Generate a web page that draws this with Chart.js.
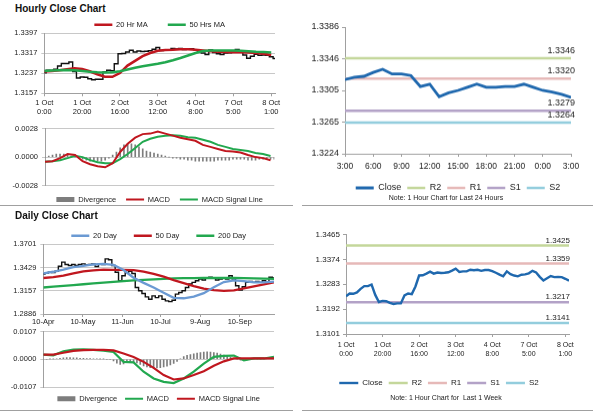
<!DOCTYPE html>
<html lang="en">
<head>
<meta charset="UTF-8">
<meta name="viewport" content="width=device-width, initial-scale=1.0">
<title>Hourly and Daily Close Charts</title>
<script src="https://cdn.jsdelivr.net/npm/chart.js"></script>
<style>
    body { margin: 0; background: #fff; font-family: "Liberation Sans", Arial, sans-serif; color: #111; }
    .page { position: relative; width: 600px; height: 413px; overflow: hidden; }
    .box { position: absolute; }
    .heading { position: absolute; left: 15px; font-size: 10px; font-weight: bold; line-height: 12px; }
    .note { position: absolute; left: 300px; width: 292px; text-align: center; font-size: 7px; line-height: 8px; color: #222; }
    .rule { position: absolute; height: 1px; background: #a0a0a0; }
</style>
</head>
<body>
<div class="page">
    <div class="heading" style="top:3px">Hourly Close Chart</div>
    <div class="box" style="left:0;top:1px;width:290px;height:116px"><canvas id="hourPrice"></canvas></div>
    <div class="box" style="left:0;top:120px;width:290px;height:84px"><canvas id="hourMacdChart"></canvas></div>

    <div class="box" style="left:300px;top:18px;width:290px;height:183.5px"><canvas id="last24Chart"></canvas></div>
    <div class="note" style="top:194px">Note: 1 Hour Chart for Last 24 Hours</div>

    <div class="rule" style="left:0;top:205px;width:293px"></div>
    <div class="rule" style="left:302px;top:205px;width:291px"></div>

    <div class="heading" style="top:210px">Daily Close Chart</div>
    <div class="box" style="left:0;top:215px;width:290px;height:111px"><canvas id="dayPrice"></canvas></div>
    <div class="box" style="left:0;top:323px;width:290px;height:80px"><canvas id="dayMacdChart"></canvas></div>

    <div class="box" style="left:300px;top:226px;width:290px;height:171px"><canvas id="weekChart"></canvas></div>
    <div class="note" style="top:394px">Note: 1 Hour Chart for&nbsp; Last 1 Week</div>

    <div class="rule" style="left:0;top:410px;width:293px"></div>
    <div class="rule" style="left:302px;top:410px;width:291px"></div>
</div>

<script>
    // ---- hourly data, 1 Oct 0:00 to 8 Oct ----
    const hourTickPos = [0, 20, 40, 60, 80, 100, 120];
    const hourTickLabels = [['1 Oct', '0:00'], ['1 Oct', '20:00'], ['2 Oct', '16:00'], ['3 Oct', '12:00'],
                            ['4 Oct', '8:00'], ['7 Oct', '5:00'], ['8 Oct', '1:00']];
    const hourSpan = 122;

    // close every 2 hours
    const weekClose = [
        1.3239, 1.3249, 1.3248, 1.3253, 1.3266, 1.3276, 1.3276, 1.3282, 1.3244, 1.3218,
        1.3222, 1.3221, 1.3215, 1.3211, 1.3213, 1.3213, 1.3242, 1.3249, 1.3247, 1.3275,
        1.3315, 1.3316, 1.3322, 1.3329, 1.3322, 1.3326, 1.3324, 1.3325, 1.3327, 1.3333,
        1.3340, 1.3328, 1.3330, 1.3330, 1.3336, 1.3334, 1.3336, 1.3332, 1.3335, 1.3335,
        1.3331, 1.3325, 1.3318, 1.3312, 1.3330, 1.3320, 1.3315, 1.3312, 1.3318, 1.3319,
        1.3323, 1.3332, 1.3326, 1.3310, 1.3297, 1.3305, 1.3313, 1.3309, 1.3310, 1.3309,
        1.3303, 1.3296
    ];
    // moving averages and MACD every 4 hours (0..120)
    const hourMa20 = [
        1.3244, 1.3246, 1.3249, 1.3253, 1.3257, 1.3254, 1.3245, 1.3233, 1.3223, 1.3223,
        1.3238, 1.3268, 1.3287, 1.3306, 1.3318, 1.3327, 1.3330, 1.3331, 1.3333, 1.3333,
        1.3331, 1.3328, 1.3325, 1.3323, 1.3322, 1.3321, 1.3321, 1.3320, 1.3318, 1.3315, 1.3310
    ];
    const hourMa50 = [
        1.3246, 1.3248, 1.3249, 1.3250, 1.3249, 1.3246, 1.3243, 1.3241, 1.3240, 1.3241,
        1.3245, 1.3252, 1.3259, 1.3265, 1.3270, 1.3275, 1.3281, 1.3289, 1.3298, 1.3308,
        1.3318, 1.3326, 1.3328, 1.3328, 1.3328, 1.3328, 1.3327, 1.3325, 1.3323, 1.3322, 1.3320
    ];
    const hourMacd = [
        -0.00046, -0.0004, -0.0001, 0.0003, 0.0002, -0.0004, -0.0007, -0.0009, -0.0010, -0.0006,
        0.0005, 0.0013, 0.0019, 0.00225, 0.0023, 0.0025, 0.0023, 0.0021, 0.0019, 0.00175,
        0.0016, 0.0012, 0.0010, 0.0008, 0.0006, 0.00055, 0.00045, 0.0002, 0.0000, -0.0001, -0.0003
    ];
    const hourSignal = [
        -0.00046, -0.0004, -0.0003, -0.0001, 0.00012, 0.0000, -0.0003, -0.0005, -0.0006, -0.0006,
        -0.0002, 0.0003, 0.0009, 0.0015, 0.0018, 0.0020, 0.0021, 0.00215, 0.0021, 0.00195,
        0.0019, 0.0017, 0.0015, 0.0012, 0.0010, 0.0008, 0.0007, 0.0006, 0.0004, 0.0003, 0.0001
    ];
    // divergence every 2 hours
    const hourDivergence = [
        0.0000, 0.0001, 0.0002, 0.0003, 0.0003, 0.0003, 0.0002, 0.0001, 0.0000, -0.0001,
        -0.0002, -0.0003, -0.0004, -0.0004, -0.0004, -0.0004, -0.0003, -0.0001, 0.0002, 0.0005,
        0.0009, 0.0012, 0.0013, 0.0013, 0.0012, 0.0010, 0.0008, 0.0006, 0.0005, 0.0004,
        0.0003, 0.0002, 0.0001, 0.0000, -0.0001, -0.0001, -0.0002, -0.0002, -0.0003, -0.0003,
        -0.0004, -0.0004, -0.0004, -0.0004, -0.0004, -0.0004, -0.0003, -0.0003, -0.0003, -0.0003,
        -0.0002, -0.0002, -0.0002, -0.0002, -0.0003, -0.0003, -0.0003, -0.0002, -0.0002, -0.0002,
        -0.0002, -0.0002
    ];
    const hourPriceTicks = [1.3157, 1.3237, 1.3317, 1.3397];
    const hourMacdTicks = [-0.0028, 0, 0.0028];

    // ---- last 24 hours ----
    const last24TickPos = [0, 3, 6, 9, 12, 15, 18, 21, 24];
    const last24Labels = ['3:00', '6:00', '9:00', '12:00', '15:00', '18:00', '21:00', '0:00', '3:00'];
    const last24Close = [
        1.3319, 1.3322, 1.3323, 1.3328, 1.3332, 1.3326, 1.3326, 1.3324, 1.3310, 1.3313,
        1.3297, 1.3302, 1.3305, 1.3309, 1.3313, 1.3309, 1.3309, 1.3310, 1.3310, 1.3313,
        1.3309, 1.3305, 1.3303, 1.3300, 1.3296
    ];
    const last24Ticks = [1.3224, 1.3265, 1.3305, 1.3346, 1.3386];
    const levelNames = ['R2', 'R1', 'S1', 'S2'];
    const last24Levels = [1.3346, 1.3320, 1.3279, 1.3264];

    // ---- last week (uses weekClose) ----
    const weekTicks = [1.3101, 1.3192, 1.3283, 1.3374, 1.3465];
    const weekLevels = [1.3425, 1.3359, 1.3217, 1.3141];

    // ---- daily data, 10 Apr to 8 Oct ----
    const daySpan = 128;
    const dayTickPos = [0, 22, 44, 65, 87, 109];
    const dayTickLabels = ['10-Apr', '10-May', '11-Jun', '10-Jul', '9-Aug', '10-Sep'];
    const dailyClose = [
        1.3354, 1.3366, 1.3374, 1.3370, 1.3386, 1.3445, 1.3492, 1.3465, 1.3453, 1.3465,
        1.3453, 1.3465, 1.3472, 1.3461, 1.3465, 1.3472, 1.3441, 1.3472, 1.3465, 1.3531,
        1.3520, 1.3453, 1.3374, 1.3275, 1.3334, 1.3370, 1.3386, 1.3360, 1.3196, 1.3157,
        1.3125, 1.3086, 1.3058, 1.3098, 1.3078, 1.3098, 1.3058, 1.3039, 1.3031, 1.3047,
        1.3118, 1.3137, 1.3157, 1.3196, 1.3236, 1.3256, 1.3275, 1.3295, 1.3283, 1.3303,
        1.3315, 1.3307, 1.3283, 1.3295, 1.3307, 1.3295, 1.3334, 1.3295, 1.3216, 1.3165,
        1.3204, 1.3256, 1.3267, 1.3256, 1.3267, 1.3256, 1.3275, 1.3256, 1.3315, 1.3307
    ];
    const dailyMa20 = [
        1.3362, 1.3380, 1.3405, 1.3433, 1.3450, 1.3465, 1.3472, 1.3460, 1.3400, 1.3310,
        1.3250, 1.3195, 1.3135, 1.3075, 1.3070, 1.3090, 1.3130, 1.3200, 1.3260, 1.3280,
        1.3270, 1.3255, 1.3255, 1.3265
    ];
    const dailyMa50 = [
        1.3307, 1.3318, 1.3335, 1.3362, 1.3385, 1.3397, 1.3404, 1.3403, 1.3401, 1.3400,
        1.3382, 1.3355, 1.3322, 1.3283, 1.3248, 1.3212, 1.3183, 1.3165, 1.3157, 1.3162,
        1.3185, 1.3210, 1.3232, 1.3256
    ];
    const dailyMa200 = [
        1.3196, 1.3205, 1.3214, 1.3224, 1.3234, 1.3243, 1.3253, 1.3262, 1.3270, 1.3278,
        1.3285, 1.3291, 1.3297, 1.3302, 1.3305, 1.3306, 1.3307, 1.3307, 1.3307, 1.3307,
        1.3306, 1.3303, 1.3300, 1.3297
    ];
    const dailyMacd = [
        0.0018, 0.0015, 0.0031, 0.0037, 0.0038, 0.0036, 0.0033, 0.0028, -0.0010, -0.0012,
        -0.0048, -0.0074, -0.0087, -0.0092, -0.0074, -0.0048, -0.0017, 0.0009, 0.0013, 0.0014,
        -0.0004, 0.0003, 0.0003, 0.0009
    ];
    const dailySignal = [
        0.0018, 0.0018, 0.0025, 0.0032, 0.0035, 0.0036, 0.0036, 0.0034, 0.0022, 0.0009,
        -0.0010, -0.0033, -0.0061, -0.0078, -0.0074, -0.0061, -0.0046, -0.0025, -0.0008, 0.0003,
        0.0003, 0.0003, 0.0003, 0.0003
    ];
    const dailyDivergence = [
        0.0000, 0.0000, 0.0001, 0.0001, 0.0002, 0.0004, 0.0005, 0.0006, 0.0006, 0.0005,
        0.0005, 0.0004, 0.0004, 0.0003, 0.0003, 0.0002, 0.0002, 0.0001, 0.0001, 0.0000,
        -0.0002, -0.0006, -0.0015, -0.0020, -0.0018, -0.0012, -0.0008, -0.0010, -0.0014, -0.0020,
        -0.0026, -0.0030, -0.0032, -0.0033, -0.0033, -0.0032, -0.0030, -0.0027, -0.0022, -0.0016,
        -0.0008, 0.0002, 0.0010, 0.0015, 0.0018, 0.0021, 0.0024, 0.0026, 0.0028, 0.0029,
        0.0028, 0.0026, 0.0024, 0.0020, 0.0016, 0.0012, 0.0007, 0.0003, 0.0000, -0.0004,
        -0.0005, -0.0003, 0.0000, 0.0001, 0.0001, 0.0000, 0.0001, 0.0003, 0.0007, 0.0005
    ];
    const dailyPriceTicks = [1.2886, 1.3157, 1.3429, 1.3701];
    const dailyMacdTicks = [-0.0107, 0, 0.0107];

    // ---- styles ----
    const RED = '#c0171f';
    const GREEN = '#22a84f';
    const BLUE = '#6b9ad3';
    const CLOSE_BLUE = '#1f68ae';
    const BAR_GREY = '#7d7d7d';
    const levelColors = ['#c4d79b', '#e6b9b8', '#b3a2c7', '#93cddd'];

    Chart.defaults.font.family = '"Liberation Sans", Arial, sans-serif';
    Chart.defaults.color = '#222';
    Chart.defaults.animation = false;
    Chart.defaults.maintainAspectRatio = false;
    Chart.defaults.plugins.tooltip.enabled = false;

    // spread values evenly over 0..span on a linear x axis
    function spread(values, span) {
        return values.map((v, i) => ({ x: i * span / (values.length - 1), y: v }));
    }

    function line(label, values, span, color, width, extra) {
        return Object.assign({
            type: 'line', label, data: spread(values, span),
            borderColor: color, backgroundColor: color, borderWidth: width,
            pointRadius: 0, pointStyle: 'line'
        }, extra);
    }

    function bars(label, values, span, extra) {
        return Object.assign({
            type: 'bar', label, data: spread(values, span),
            backgroundColor: BAR_GREY, barThickness: 1, pointStyle: 'rect'
        }, extra);
    }

    function levels(values, span) {
        return levelNames.map((name, i) => line(name, [values[i], values[i]], span, levelColors[i], 2.5, { order: 1, level: true }));
    }

    function yAxis(ticks, width, size, onArea) {
        return {
            position: 'left',
            min: ticks[0],
            max: ticks[ticks.length - 1],
            afterBuildTicks: s => { s.ticks = ticks.map(v => ({ value: v })); },
            afterFit: s => { s.width = width; },
            ticks: { callback: v => v.toFixed(4), padding: onArea ? 4 : 3, font: { size } },
            grid: { drawOnChartArea: onArea, tickLength: 3, color: onArea ? '#c8c8c8' : '#a0a0a0' },
            border: { color: '#a0a0a0' }
        };
    }

    function xAxis(max, pos, labels, height, size, pad) {
        return {
            type: 'linear', min: 0, max, offset: false,
            afterBuildTicks: s => { s.ticks = pos.map(v => ({ value: v })); },
            afterFit: s => { s.height = height; },
            ticks: { callback: (v, i) => labels[i], autoSkip: false, maxRotation: 0, padding: pad, font: { size } },
            grid: { drawOnChartArea: false, offset: false, tickLength: 3, color: '#a0a0a0' },
            border: { color: '#a0a0a0' }
        };
    }

    function hiddenX(max) {
        return { type: 'linear', min: 0, max, offset: false, grid: { offset: false }, display: false };
    }

    function legendOpts(position, pad, maxHeight, size, full, markWidth) {
        return {
            position, fullSize: full, maxHeight,
            labels: {
                usePointStyle: true, pointStyleWidth: markWidth, boxHeight: 5,
                padding: pad, font: { size }, color: '#222',
                filter: (item, data) => !data.datasets[item.datasetIndex].hideInLegend,
                sort: (a, b) => a.datasetIndex - b.datasetIndex
            }
        };
    }

    // writes the level value above each support / resistance line
    const levelLabels = {
        id: 'levelLabels',
        afterDatasetsDraw(chart, args, opts) {
            const { ctx, chartArea, scales } = chart;
            ctx.save();
            ctx.font = opts.size + 'px "Liberation Sans", Arial, sans-serif';
            ctx.fillStyle = '#222';
            ctx.textAlign = 'right';
            ctx.textBaseline = 'bottom';
            chart.data.datasets.forEach(ds => {
                if (!ds.level) return;
                const v = ds.data[0].y;
                ctx.fillText(v.toFixed(4), chartArea.right + opts.dx, scales.y.getPixelForValue(v) - opts.gap);
            });
            ctx.restore();
        }
    };

    // Hourly price with moving averages
    new Chart(document.getElementById('hourPrice'), {
        type: 'line',
        data: {
            datasets: [
                line('20 Hr MA', hourMa20, 120, RED, 2.6, { order: 1 }),
                line('50 Hrs MA', hourMa50, 120, GREEN, 2.6, { order: 0 }),
                line('Close', weekClose, hourSpan, '#111', 1.4, { order: 2, stepped: 'middle', hideInLegend: true })
            ]
        },
        options: {
            layout: { padding: { left: 0, right: 15, top: 0, bottom: 0 } },
            plugins: { legend: legendOpts('top', 20, 32.3, 7.5, false, 18) },
            scales: {
                x: xAxis(hourSpan, hourTickPos, hourTickLabels, 23.7, 7.5, 2),
                y: yAxis(hourPriceTicks, 44.3, 7.5, true)
            }
        }
    });

    // Hourly MACD
    new Chart(document.getElementById('hourMacdChart'), {
        type: 'line',
        data: {
            datasets: [
                bars('Divergence', hourDivergence, hourSpan, { order: 2 }),
                line('MACD', hourMacd, 120, RED, 2, { order: 0 }),
                line('MACD Signal Line', hourSignal, 120, GREEN, 2, { order: 1 })
            ]
        },
        options: {
            layout: { padding: { left: 0, right: 15.7, top: 8.3, bottom: 0 } },
            plugins: { legend: legendOpts('bottom', 10, 18.3, 7.5, false, 18) },
            scales: {
                x: hiddenX(hourSpan),
                y: yAxis(hourMacdTicks, 45, 7.5, true)
            }
        }
    });

    // Last 24 hours with pivot levels
    new Chart(document.getElementById('last24Chart'), {
        type: 'line',
        data: {
            datasets: [line('Close', last24Close, 24, CLOSE_BLUE, 2.8, { order: 0 })].concat(levels(last24Levels, 24))
        },
        options: {
            layout: { padding: { left: 0, right: 19, top: 9, bottom: 0 } },
            plugins: {
                legend: legendOpts('bottom', 6, 25, 9, false, 18),
                levelLabels: { size: 9, dx: 4, gap: 3 }
            },
            scales: {
                x: xAxis(24, last24TickPos, last24Labels, 23.5, 8.5, 5),
                y: yAxis(last24Ticks, 45, 9, false)
            }
        },
        plugins: [levelLabels]
    });

    // Daily price with moving averages
    new Chart(document.getElementById('dayPrice'), {
        type: 'line',
        data: {
            datasets: [
                line('20 Day', dailyMa20, daySpan, BLUE, 2.3, { order: 0 }),
                line('50 Day', dailyMa50, daySpan, RED, 2.3, { order: 1 }),
                line('200 Day', dailyMa200, daySpan, GREEN, 2.3, { order: 2 }),
                line('Close', dailyClose, daySpan, '#111', 1.4, { order: 3, stepped: 'middle', hideInLegend: true })
            ]
        },
        options: {
            layout: { padding: { left: 0, right: 16, top: 0, bottom: 0 } },
            plugins: { legend: legendOpts('top', 17, 29.3, 7.5, false, 18) },
            scales: {
                x: xAxis(daySpan, dayTickPos, dayTickLabels, 12, 7.5, 0),
                y: yAxis(dailyPriceTicks, 43.3, 7.5, true)
            }
        }
    });

    // Daily MACD
    new Chart(document.getElementById('dayMacdChart'), {
        type: 'line',
        data: {
            datasets: [
                bars('Divergence', dailyDivergence, daySpan, { order: 2 }),
                line('MACD', dailyMacd, daySpan, GREEN, 2.2, { order: 1 }),
                line('MACD Signal Line', dailySignal, daySpan, RED, 2.2, { order: 0 })
            ]
        },
        options: {
            layout: { padding: { left: 0, right: 16, top: 8, bottom: 0 } },
            plugins: { legend: legendOpts('bottom', 8, 16, 7.5, false, 18) },
            scales: {
                x: hiddenX(daySpan),
                y: yAxis(dailyMacdTicks, 43.3, 7.5, true)
            }
        }
    });

    // Last week, hourly close with pivot levels
    new Chart(document.getElementById('weekChart'), {
        type: 'line',
        data: {
            datasets: [line('Close', weekClose, hourSpan, CLOSE_BLUE, 2.4, { order: 0 })].concat(levels(weekLevels, hourSpan))
        },
        options: {
            layout: { padding: { left: 9, right: 21, top: 8.5, bottom: 0 } },
            plugins: {
                legend: legendOpts('bottom', 6, 40, 8, true, 19),
                levelLabels: { size: 8, dx: 1, gap: 1 }
            },
            scales: {
                x: xAxis(hourSpan, hourTickPos, hourTickLabels, 39, 7, 4),
                y: yAxis(weekTicks, 37, 8, false)
            }
        },
        plugins: [levelLabels]
    });
</script>
</body>
</html>
